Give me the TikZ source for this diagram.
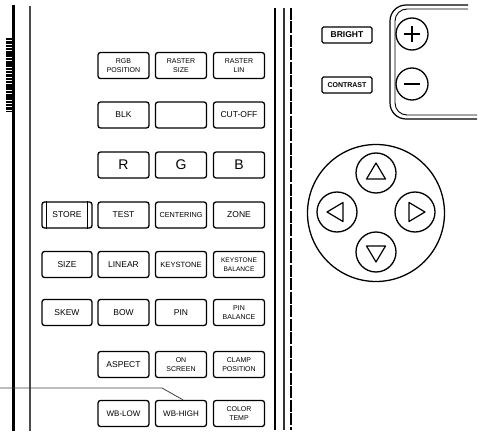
\documentclass[tikz,border=0pt]{standalone}
\usepackage{fontspec}
\setmainfont{Liberation Sans}
\begin{document}
\begin{tikzpicture}[x=1pt,y=-1pt,
  btn/.style={draw, line width=1.3pt, rounded corners=2.5pt, minimum width=51pt, minimum height=26pt, inner sep=0pt, align=center, font=\fontsize{8.5}{9}\selectfont},
  btntwo/.style={btn, font=\fontsize{7}{8.5}\selectfont},
  btnbig/.style={btn, font=\fontsize{14}{15}\selectfont},
  sbox/.style={draw, line width=1.2pt, rounded corners=1.5pt, minimum width=50pt, minimum height=16pt, inner sep=0pt},
  ring/.style={draw, circle, line width=1.3pt, inner sep=0pt},
  rail/.style={line width=1.3pt}
]
\useasboundingbox (0,0) rectangle (482,433);

% panel edge lines
\draw[line width=2.6pt] (13.5,5) -- (13.5,431);
\draw[line width=8pt, dash pattern=on 2.5pt off 0.8pt] (10,38) -- (10,112);
\draw[line width=1.3pt, black!70] (30,6) -- (30,431);
\draw[rail] (275,8) -- (275,430);
\draw[rail, black!80] (284,8) -- (284,430);
\draw[line width=1.6pt, dash pattern=on 12pt off 1.5pt] (291,8) -- (291,430);

% buttons
\node[btntwo] (rgbpos) at (123.5,65.5) {RGB\\POSITION};
\node[btntwo] (rsize) at (181,65.5) {RASTER\\SIZE};
\node[btntwo] (rlin) at (239,65.5) {RASTER\\LIN};

\node[btn] (blk) at (123.5,115) {BLK};
\node[btn] (blank) at (181,115) {};
\node[btn] (cutoff) at (239,115) {CUT-OFF};

\node[btnbig] (r) at (123.5,165) {R};
\node[btnbig] (g) at (181,165) {G};
\node[btnbig] (b) at (239,165) {B};

\node[btn, minimum width=50pt] (store) at (67,215) {STORE};
\draw[line width=1.3pt] ([xshift=5pt]store.north west) -- ([xshift=5pt]store.south west);
\draw[line width=1.3pt] ([xshift=-5pt]store.north east) -- ([xshift=-5pt]store.south east);
\node[btn] (test) at (123.5,215) {TEST};
\node[btn, font=\fontsize{7.3}{8}\selectfont] (centering) at (181,215) {CENTERING};
\node[btn] (zone) at (239,215) {ZONE};

\node[btn, minimum width=50pt] (size) at (67,264.5) {SIZE};
\node[btn] (linear) at (123.5,264.5) {LINEAR};
\node[btn, font=\fontsize{7.6}{8}\selectfont] (keystone) at (181,264.5) {KEYSTONE};
\node[btntwo, font=\fontsize{6.6}{8.5}\selectfont] (kbal) at (239,264.5) {KEYSTONE\\BALANCE};

\node[btn, minimum width=50pt] (skew) at (67,312.5) {SKEW};
\node[btn] (bow) at (123.5,312.5) {BOW};
\node[btn] (pin) at (181,312.5) {PIN};
\node[btntwo] (pbal) at (239,312.5) {PIN\\BALANCE};

\node[btn] (aspect) at (123.5,364.5) {ASPECT};
\node[btntwo] (onscreen) at (181,364.5) {ON\\SCREEN};
\node[btntwo] (clamp) at (239,364.5) {CLAMP\\POSITION};

\node[btn, font=\fontsize{8}{9}\selectfont] (wblow) at (123.5,413.5) {WB-LOW};
\node[btn, font=\fontsize{8}{9}\selectfont] (wbhigh) at (181,413.5) {WB-HIGH};
\node[btntwo] (ctemp) at (239,413.5) {COLOR\\TEMP};

% pointer line
\coordinate (p0) at (0,388);
\coordinate (pb) at (162,388);
\draw[line width=0.8pt, black!75] (p0) -- (pb) -- ([xshift=2pt]wbhigh.north);

% bright / contrast
\node[sbox, font=\fontsize{8.5}{9}\selectfont\bfseries] (bright) at (347,35) {BRIGHT};
\node[sbox, font=\fontsize{7}{8}\selectfont\bfseries] (contrast) at (347,85) {CONTRAST};

% bracket panel
\draw[line width=1.2pt, rounded corners=16pt] (468,5) -- (390,5) -- (390,119) -- (477,119);
\draw[line width=0.9pt, rounded corners=12pt] (468,9) -- (395,9) -- (395,115) -- (477,115);

\node[ring, minimum size=32pt] (plus) at (412,34) {};
\draw[line width=2pt] ([yshift=-8pt]plus.center) -- ([yshift=8pt]plus.center);
\draw[line width=2pt] ([xshift=-8pt]plus.center) -- ([xshift=8pt]plus.center);
\node[ring, minimum size=32pt] (minus) at (412,84) {};
\draw[line width=2pt] ([xshift=-8pt]minus.center) -- ([xshift=8pt]minus.center);

% direction pad
\node[ring, minimum size=137pt] (pad) at (376,213) {};
\node[ring, minimum size=40pt] (up) at (376,173) {};
\node[ring, minimum size=40pt] (down) at (376,252) {};
\node[ring, minimum size=40pt] (left) at (337,212) {};
\node[ring, minimum size=40pt] (right) at (415,212) {};
\draw[line width=1.2pt, line join=round] ([yshift=10pt]up.center) -- ([xshift=-9.5pt,yshift=-6pt]up.center) -- ([xshift=9.5pt,yshift=-6pt]up.center) -- cycle;
\draw[line width=1.2pt, line join=round] ([yshift=-10pt]down.center) -- ([xshift=-9.5pt,yshift=6pt]down.center) -- ([xshift=9.5pt,yshift=6pt]down.center) -- cycle;
\draw[line width=1.2pt, line join=round] ([xshift=-10pt]left.center) -- ([xshift=6pt,yshift=-9.5pt]left.center) -- ([xshift=6pt,yshift=9.5pt]left.center) -- cycle;
\draw[line width=1.2pt, line join=round] ([xshift=10pt]right.center) -- ([xshift=-6pt,yshift=-9.5pt]right.center) -- ([xshift=-6pt,yshift=9.5pt]right.center) -- cycle;
\end{tikzpicture}
\end{document}
